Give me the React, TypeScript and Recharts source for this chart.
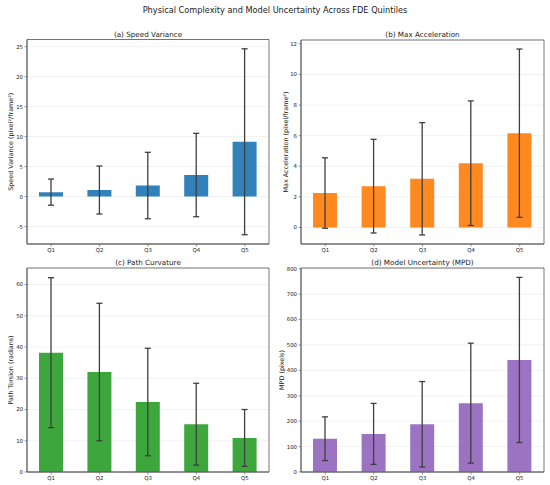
import React from 'react';
import { BarChart, Bar, XAxis, YAxis, CartesianGrid, ErrorBar, ReferenceArea } from 'recharts';

const FONT = '"DejaVu Sans", Verdana, sans-serif';

const quintiles = ['Q1', 'Q2', 'Q3', 'Q4', 'Q5'];

const speedMean = [0.75, 1.1, 1.85, 3.6, 9.15];
const speedStd = [2.18, 4.0, 5.54, 6.95, 15.5];

const accelMean = [2.25, 2.7, 3.18, 4.2, 6.16];
const accelStd = [2.3, 3.06, 3.67, 4.07, 5.5];

const curvMean = [38.2, 32.0, 22.4, 15.3, 10.9];
const curvStd = [24.0, 22.0, 17.2, 13.1, 9.1];

const mpdMean = [131, 150, 188, 271, 441];
const mpdStd = [86, 120, 168, 236, 325];

const speedTicks = [-5, 0, 5, 10, 15, 20, 25];
const accelTicks = [0, 2, 4, 6, 8, 10, 12];
const curvTicks = [0, 10, 20, 30, 40, 50, 60];
const mpdTicks = [0, 100, 200, 300, 400, 500, 600, 700, 800];

const build = (mean: number[], sd: number[]) =>
  quintiles.map((q, i) => ({ q, mean: mean[i], sd: sd[i] }));

const W = 550;
const H = 485;
const XH = 14;
const AX = '#555';
const TXT = '#222';

type Rect = { x0: number; x1: number; y0: number; y1: number };

function Panel(props: {
  data: any[];
  color: string;
  domain: [number, number];
  ticks: number[];
  title: string;
  ylabel: string;
  rect: Rect;
  gap: number;
}) {
  const { data, color, domain, ticks, title, ylabel, rect, gap } = props;
  const yLabel = (p: any) => {
    const vb = p.viewBox || {};
    const cx = rect.x0 - gap;
    const cy = (vb.y ?? rect.y0) + (vb.height ?? rect.y1 - rect.y0) / 2;
    return (
      <text
        x={cx}
        y={cy}
        transform={`rotate(-90, ${cx}, ${cy})`}
        textAnchor="middle"
        dominantBaseline="central"
        fontSize={6.4}
        fontFamily={FONT}
        fill={TXT}
      >
        {ylabel}
      </text>
    );
  };
  return (
    <div style={{ position: 'absolute', left: 0, top: 0, width: W, height: H }}>
      <div
        style={{
          position: 'absolute',
          left: rect.x0,
          width: rect.x1 - rect.x0,
          top: rect.y0 - 11,
          height: 11,
          lineHeight: '11px',
          textAlign: 'center',
          fontFamily: FONT,
          fontSize: 7.2,
          color: TXT,
        }}
      >
        {title}
      </div>
      <div style={{ position: 'absolute', left: 0, top: 0 }}>
        <BarChart
          width={W}
          height={H}
          data={data}
          margin={{ top: rect.y0, right: W - rect.x1, bottom: H - rect.y1 - XH, left: 0 }}
        >
          <CartesianGrid vertical={false} stroke="#b0b0b0" strokeOpacity={0.3} strokeWidth={0.6} />
          <XAxis
            dataKey="q"
            height={XH}
            interval={0}
            tickSize={2.5}
            tickMargin={2}
            tick={{ fontSize: 5.4, fill: TXT, fontFamily: FONT }}
            axisLine={{ stroke: AX, strokeWidth: 0.8 }}
            tickLine={{ stroke: AX, strokeWidth: 0.6 }}
          />
          <YAxis
            type="number"
            domain={domain}
            ticks={ticks}
            allowDataOverflow
            width={rect.x0}
            tickSize={2.5}
            tickMargin={1.5}
            tick={{ fontSize: 5.4, fill: TXT, fontFamily: FONT }}
            axisLine={{ stroke: AX, strokeWidth: 0.8 }}
            tickLine={{ stroke: AX, strokeWidth: 0.6 }}
            label={{ content: yLabel }}
          />
          <Bar dataKey="mean" fill={color} fillOpacity={0.92} barSize={24} isAnimationActive={false}>
            <ErrorBar
              dataKey="sd"
              direction="y"
              width={3}
              stroke="#3f3f3f"
              strokeWidth={1.3}
              isAnimationActive={false}
            />
          </Bar>
          <ReferenceArea
            y1={domain[0]}
            y2={domain[1]}
            fill="none"
            fillOpacity={0}
            stroke={AX}
            strokeWidth={0.8}
            ifOverflow="visible"
          />
        </BarChart>
      </div>
    </div>
  );
}

export default function App() {
  return (
    <div
      style={{
        position: 'absolute',
        left: 0,
        top: 0,
        width: W,
        height: H,
        background: '#fff',
        overflow: 'hidden',
      }}
    >
      <div
        style={{
          position: 'absolute',
          left: 0,
          top: 5,
          width: W,
          textAlign: 'center',
          fontFamily: FONT,
          fontSize: 8.2,
          lineHeight: '11px',
          color: TXT,
        }}
      >
        Physical Complexity and Model Uncertainty Across FDE Quintiles
      </div>
      <Panel
        data={build(speedMean, speedStd)}
        color="#1f77b4"
        domain={[-7.9, 26.2]}
        ticks={speedTicks}
        title="(a) Speed Variance"
        ylabel="Speed Variance (pixel²/frame²)"
        rect={{ x0: 27, x1: 269, y0: 39.5, y1: 244 }}
        gap={16}
      />
      <Panel
        data={build(accelMean, accelStd)}
        color="#ff7f0e"
        domain={[-1.08, 12.25]}
        ticks={accelTicks}
        title="(b) Max Acceleration"
        ylabel="Max Acceleration (pixel/frame²)"
        rect={{ x0: 301, x1: 544, y0: 40, y1: 244 }}
        gap={15}
      />
      <Panel
        data={build(curvMean, curvStd)}
        color="#2ca02c"
        domain={[0, 65.3]}
        ticks={curvTicks}
        title="(c) Path Curvature"
        ylabel="Path Torsion (radians)"
        rect={{ x0: 27, x1: 269, y0: 268, y1: 472 }}
        gap={16}
      />
      <Panel
        data={build(mpdMean, mpdStd)}
        color="#9467bd"
        domain={[0, 803]}
        ticks={mpdTicks}
        title="(d) Model Uncertainty (MPD)"
        ylabel="MPD (pixels)"
        rect={{ x0: 301, x1: 544, y0: 268, y1: 472 }}
        gap={19}
      />
    </div>
  );
}
